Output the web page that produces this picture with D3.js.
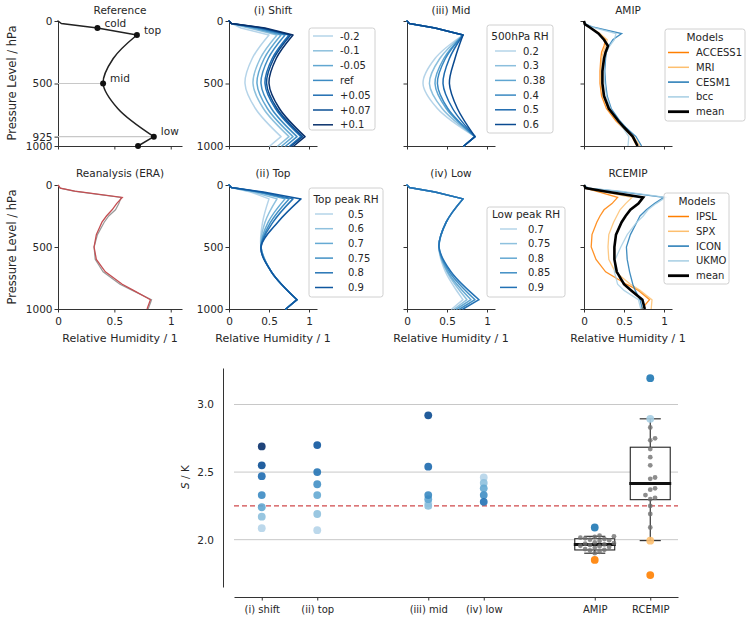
<!DOCTYPE html>
<html>
<head>
<meta charset="utf-8">
<script src="https://cdn.jsdelivr.net/npm/d3@7"></script>
<style>
  body { margin: 0; background: #fff; }
  svg text { font-family: "DejaVu Sans", "Liberation Sans", sans-serif; fill: #262626; }
</style>
</head>
<body>
<svg id="fig" width="749" height="619"></svg>
<script>
// ---------- data ----------
// idealised profiles: relative humidity at these pressure levels (hPa)
const idealLevels = [0, 20, 56, 112, 300, 500, 700, 925, 1000];
const refProfile = [0, 0.03, 0.35, 0.70, 0.49, 0.40, 0.53, 0.85, 0.71];
const refMarkIdx = [2, 3, 5, 7, 8];
const refMarkNames = ["cold", "top", "mid", "low", ""];

const shiftLabels = ["-0.2", "-0.1", "-0.05", "ref", "+0.05", "+0.07", "+0.1"];
const shiftProfiles = [
  [0, 0.03, 0.15, 0.50, 0.29, 0.20, 0.33, 0.65, 0.51],
  [0, 0.03, 0.25, 0.60, 0.39, 0.30, 0.43, 0.75, 0.61],
  [0, 0.03, 0.30, 0.65, 0.44, 0.35, 0.48, 0.80, 0.66],
  [0, 0.03, 0.35, 0.70, 0.49, 0.40, 0.53, 0.85, 0.71],
  [0, 0.03, 0.40, 0.75, 0.54, 0.45, 0.58, 0.90, 0.76],
  [0, 0.03, 0.42, 0.77, 0.56, 0.47, 0.60, 0.92, 0.78],
  [0, 0.03, 0.45, 0.80, 0.59, 0.50, 0.63, 0.95, 0.81]
];

const midLabels = ["0.2", "0.3", "0.38", "0.4", "0.5", "0.6"];
const midProfiles = [
  [0, 0.03, 0.35, 0.70, 0.35, 0.20, 0.38, 0.85, 0.71],
  [0, 0.03, 0.35, 0.70, 0.41, 0.28, 0.44, 0.85, 0.71],
  [0, 0.03, 0.35, 0.70, 0.46, 0.35, 0.49, 0.85, 0.71],
  [0, 0.03, 0.35, 0.70, 0.48, 0.38, 0.51, 0.85, 0.71],
  [0, 0.03, 0.35, 0.70, 0.53, 0.45, 0.57, 0.85, 0.71],
  [0, 0.03, 0.35, 0.70, 0.60, 0.53, 0.63, 0.85, 0.71]
];

const topLabels = ["0.5", "0.6", "0.7", "0.75", "0.8", "0.9"];
const topProfiles = [
  [0, 0.03, 0.27, 0.50, 0.42, 0.40, 0.53, 0.85, 0.71],
  [0, 0.03, 0.30, 0.60, 0.45, 0.40, 0.53, 0.85, 0.71],
  [0, 0.03, 0.35, 0.70, 0.49, 0.40, 0.53, 0.85, 0.71],
  [0, 0.03, 0.37, 0.75, 0.52, 0.40, 0.53, 0.85, 0.71],
  [0, 0.03, 0.39, 0.80, 0.55, 0.40, 0.53, 0.85, 0.71],
  [0, 0.03, 0.43, 0.90, 0.61, 0.40, 0.53, 0.85, 0.71]
];

const lowLabels = ["0.7", "0.75", "0.8", "0.85", "0.9"];
const lowProfiles = [
  [0, 0.03, 0.35, 0.70, 0.49, 0.40, 0.48, 0.70, 0.56],
  [0, 0.03, 0.35, 0.70, 0.49, 0.40, 0.50, 0.75, 0.59],
  [0, 0.03, 0.35, 0.70, 0.49, 0.40, 0.51, 0.80, 0.62],
  [0, 0.03, 0.35, 0.70, 0.49, 0.40, 0.53, 0.85, 0.66],
  [0, 0.03, 0.35, 0.70, 0.49, 0.40, 0.55, 0.90, 0.70]
];

// model / reanalysis profiles on standard levels
const modelLevels = [0, 25, 50, 100, 150, 200, 250, 300, 400, 500, 600, 700, 800, 850, 925, 1000];
const eraGray = [0, 0.02, 0.14, 0.56, 0.54, 0.51, 0.45, 0.41, 0.35, 0.32, 0.33, 0.40, 0.55, 0.66, 0.83, 0.80];
const eraRed  = [0, 0.02, 0.15, 0.57, 0.52, 0.48, 0.43, 0.39, 0.34, 0.32, 0.34, 0.42, 0.57, 0.67, 0.82, 0.79];

const modelColors = ["#ff7f00", "#fdbf6f", "#1f78b4", "#a6cee3", "#000000"];
const amipModels = ["ACCESS1", "MRI", "CESM1", "bcc", "mean"];
const amipProfiles = [
  [0, 0.01, 0.07, 0.18, 0.27, 0.25, 0.22, 0.21, 0.20, 0.20, 0.22, 0.28, 0.40, 0.48, 0.60, 0.66],
  [0, 0.01, 0.08, 0.20, 0.29, 0.27, 0.24, 0.22, 0.21, 0.21, 0.24, 0.30, 0.42, 0.50, 0.62, 0.70],
  [0, 0.02, 0.12, 0.47, 0.36, 0.31, 0.28, 0.27, 0.26, 0.27, 0.29, 0.34, 0.45, 0.52, 0.65, 0.72],
  [0, 0.02, 0.10, 0.40, 0.38, 0.32, 0.28, 0.26, 0.25, 0.26, 0.28, 0.33, 0.42, 0.48, 0.56, 0.55],
  [0, 0.01, 0.07, 0.18, 0.25, 0.30, 0.27, 0.25, 0.23, 0.23, 0.25, 0.31, 0.43, 0.50, 0.61, 0.67]
];
const rcemipModels = ["IPSL", "SPX", "ICON", "UKMO", "mean"];
const rcemipProfiles = [
  [0, 0.02, 0.15, 0.42, 0.35, 0.25, 0.20, 0.16, 0.10, 0.09, 0.15, 0.27, 0.53, 0.68, 0.82, 0.72],
  [0, 0.02, 0.20, 0.60, 0.52, 0.45, 0.41, 0.37, 0.31, 0.30, 0.31, 0.39, 0.58, 0.70, 0.85, 0.84],
  [0, 0.05, 0.40, 1.00, 0.88, 0.78, 0.70, 0.66, 0.58, 0.53, 0.54, 0.57, 0.61, 0.64, 0.70, 0.73],
  [0, 0.05, 0.45, 1.02, 0.90, 0.80, 0.74, 0.66, 0.54, 0.46, 0.39, 0.38, 0.42, 0.50, 0.68, 0.71],
  [0, 0.02, 0.25, 0.74, 0.68, 0.58, 0.52, 0.47, 0.40, 0.38, 0.38, 0.41, 0.50, 0.59, 0.73, 0.76]
];

// lower panel: S / K
const groups = ["(i) shift", "(ii) top", "(iii) mid", "(iv) low", "AMIP", "RCEMIP"];
const groupPos = [0, 1, 3, 4, 6, 7];
const shiftS = [2.085, 2.17, 2.24, 2.33, 2.47, 2.55, 2.69];
const topS = [2.07, 2.19, 2.33, 2.41, 2.50, 2.70];
const midS = [2.27, 2.25, 2.30, 2.33, 2.54, 2.92];
const lowS = [2.46, 2.42, 2.38, 2.33, 2.28];
const refS = 2.25;
const amipS = [2.03, 2.025, 2.02, 2.015, 2.01, 2.005, 2.0, 1.995, 1.99, 1.98, 1.975, 1.97,
               1.965, 1.96, 1.955, 1.95, 1.945, 1.94, 1.93, 1.925, 1.92, 1.91, 1.90];
const rcemipS = [2.83, 2.75, 2.735, 2.67, 2.61, 2.55, 2.46, 2.45, 2.38, 2.37, 2.33, 2.31,
                 2.30, 2.25, 2.19, 2.09];
// whisker low, q1, median, q3, whisker high
const amipBox = [1.90, 1.924, 1.965, 2.007, 2.025];
const rcemipBox = [1.993, 2.296, 2.415, 2.684, 2.894];
const amipNamedS = [2.09, 1.85];          // CESM1, ACCESS1
const amipNamedCol = ["#1f78b4", "#ff7f00"];
const rcemipNamedS = [3.195, 2.894, 1.993, 1.738];   // UKMO, ICON, SPX, IPSL
const rcemipNamedCol = ["#1f78b4", "#a6cee3", "#fdbf6f", "#ff7f00"];

// ---------- layout ----------
const svg = d3.select("#fig");
const ink = "#262626";
const colX = [58, 229, 407, 584];
const colW = [124, 88, 88, 88];
const rowTop = [21, 185];
const rowH = [125, 124];

function blues(n, t0, t1) {
  return d3.range(n).map(i => d3.interpolateBlues(t0 + (t1 - t0) * i / (n - 1)));
}
const shiftCols = blues(shiftLabels.length, 0.3, 1.0);
const midCols = blues(midLabels.length, 0.3, 0.9);
const topCols = blues(topLabels.length, 0.3, 0.85);
const lowCols = blues(lowLabels.length, 0.3, 0.75);

function scales(col, row) {
  return {
    x: d3.scaleLinear().domain([0, 1.1]).range([colX[col], colX[col] + colW[col]]),
    y: d3.scaleLinear().domain([0, 1000]).range([rowTop[row], rowTop[row] + rowH[row]])
  };
}

function styleAxis(g, fs) {
  g.attr("font-family", null).attr("font-size", null);
  g.selectAll("path.domain").attr("stroke", "#333").attr("stroke-width", 1);
  g.selectAll(".tick line").attr("stroke", "#333");
  g.selectAll("text").attr("fill", ink).style("font-size", (fs || 10.5) + "px");
}

function axes(s, yTicks, yLab, xLab) {
  const ya = d3.axisLeft(s.y).tickValues(yTicks).tickSize(3.5).tickSizeOuter(0).tickPadding(2)
    .tickFormat(yLab ? d3.format("d") : "");
  svg.append("g").attr("transform", `translate(${s.x(0)},0)`).call(ya).call(styleAxis);
  const xa = d3.axisBottom(s.x).tickValues([0, 0.5, 1]).tickSize(3.5).tickSizeOuter(0).tickPadding(5)
    .tickFormat(xLab ? (d => d === 0.5 ? "0.5" : String(d)) : "");
  svg.append("g").attr("transform", `translate(0,${s.y(1000)})`).call(xa).call(styleAxis);
}

function title(s, txt, row) {
  svg.append("text").attr("x", (s.x.range()[0] + s.x.range()[1]) / 2)
    .attr("y", row === 0 ? 14 : 177).attr("text-anchor", "middle")
    .style("font-size", "10.5px").text(txt);
}

function idealPath(s, rh) {
  const pts = idealLevels.map((p, i) => [s.x(rh[i]), s.y(p)]);
  const lin = d3.line();
  const smooth = d3.line().curve(d3.curveCatmullRom.alpha(0.5));
  return lin(pts.slice(0, 4)) + smooth(pts.slice(3, 8)) + lin(pts.slice(7));
}

function modelPath(s, rh) {
  return d3.line()(modelLevels.map((p, i) => [s.x(rh[i]), s.y(p)]));
}

function legend(o) {
  const g = svg.append("g");
  g.append("rect").attr("x", o.x0).attr("y", o.y0).attr("width", o.x1 - o.x0).attr("height", o.y1 - o.y0)
    .attr("rx", 2.5).attr("fill", "#fff").attr("fill-opacity", 0.8).attr("stroke", "#d0d0d0");
  if (o.title) {
    g.append("text").attr("x", o.titleX).attr("y", o.rows[0] - o.step).attr("dy", "0.35em")
      .attr("text-anchor", "middle").style("font-size", "10.5px").text(o.title);
  }
  o.labels.forEach((lab, i) => {
    const y = o.rows[0] + i * o.step;
    g.append("line").attr("x1", o.lx0).attr("x2", o.lx1).attr("y1", y).attr("y2", y)
      .attr("stroke", o.colors[i]).attr("stroke-width", o.widths ? o.widths[i] : 1.5);
    g.append("text").attr("x", o.tx).attr("y", y).attr("dy", "0.35em")
      .style("font-size", "10px").text(lab);
  });
}

// ---------- top row ----------
// Reference
{
  const s = scales(0, 0);
  axes(s, [0, 500, 925, 1000], true, false);
  [5, 7].forEach(i => {
    svg.append("line").attr("x1", s.x(0)).attr("x2", s.x(refProfile[i]))
      .attr("y1", s.y(idealLevels[i])).attr("y2", s.y(idealLevels[i]))
      .attr("stroke", "#c8c8c8").attr("stroke-width", 1.2);
  });
  svg.append("path").attr("d", idealPath(s, refProfile)).attr("fill", "none")
    .attr("stroke", "#222").attr("stroke-width", 1.5).attr("stroke-linecap", "round");
  refMarkIdx.forEach((idx, k) => {
    const cx = s.x(refProfile[idx]), cy = s.y(idealLevels[idx]);
    svg.append("circle").attr("cx", cx).attr("cy", cy).attr("r", 3).attr("fill", "#111");
    if (refMarkNames[k]) {
      svg.append("text").attr("x", cx + 7).attr("y", cy - 1.5)
        .style("font-size", "10.5px").text(refMarkNames[k]);
    }
  });
  title(s, "Reference", 0);
}

function idealPanel(col, row, ttl, profiles, cols, yLab, xLab) {
  const s = scales(col, row);
  axes(s, [0, 500, 1000], yLab, xLab);
  profiles.forEach((rh, i) => {
    svg.append("path").attr("d", idealPath(s, rh)).attr("fill", "none")
      .attr("stroke", cols[i]).attr("stroke-width", 1.5).attr("stroke-linecap", "round");
  });
  title(s, ttl, row);
}

idealPanel(1, 0, "(i) Shift", shiftProfiles, shiftCols, true, false);
idealPanel(2, 0, "(iii) Mid", midProfiles, midCols, false, false);

function modelPanel(col, row, ttl, profiles, xLab) {
  const s = scales(col, row);
  axes(s, [0, 500, 1000], false, xLab);
  profiles.forEach((rh, i) => {
    const isMean = i === profiles.length - 1;
    svg.append("path").attr("d", modelPath(s, rh)).attr("fill", "none")
      .attr("stroke", modelColors[i]).attr("stroke-width", isMean ? 2.6 : 1.3)
      .attr("stroke-opacity", isMean ? 1 : 0.85);
  });
  title(s, ttl, row);
}
modelPanel(3, 0, "AMIP", amipProfiles, false);

// ---------- bottom row ----------
{
  const s = scales(0, 1);
  axes(s, [0, 500, 1000], true, true);
  svg.append("path").attr("d", modelPath(s, eraGray)).attr("fill", "none")
    .attr("stroke", "#999").attr("stroke-width", 1.2);
  svg.append("path").attr("d", modelPath(s, eraRed)).attr("fill", "none")
    .attr("stroke", "#c44e52").attr("stroke-width", 1.3);
  title(s, "Reanalysis (ERA)", 1);
}
idealPanel(1, 1, "(ii) Top", topProfiles, topCols, true, true);
idealPanel(2, 1, "(iv) Low", lowProfiles, lowCols, false, true);
modelPanel(3, 1, "RCEMIP", rcemipProfiles, true);

// axis labels
[83, 247].forEach(cy => {
  svg.append("text").attr("transform", `translate(16,${cy}) rotate(-90)`)
    .attr("text-anchor", "middle").style("font-size", "11.5px").text("Pressure Level / hPa");
});
[0, 1, 2, 3].forEach(c => {
  svg.append("text").attr("x", colX[c] + colW[c] / 2)
    .attr("y", 342).attr("text-anchor", "middle").style("font-size", "11px")
    .text("Relative Humidity / 1");
});

// legends
const stdW = labels => labels.map((d, i) => i === labels.length - 1 ? 2.8 : 1.5);
legend({ x0: 309, x1: 375, y0: 28, y1: 130, rows: [36], step: 14.8, lx0: 313, lx1: 333, tx: 340,
  labels: shiftLabels, colors: shiftCols });
legend({ x0: 487, x1: 553, y0: 25, y1: 133, rows: [51], step: 14.7, lx0: 495, lx1: 516, tx: 523,
  title: "500hPa RH", titleX: 520, labels: midLabels, colors: midCols });
legend({ x0: 665, x1: 745, y0: 29, y1: 121, rows: [52.5], step: 14.8, lx0: 668, lx1: 689, tx: 696,
  title: "Models", titleX: 705, labels: amipModels, colors: modelColors, widths: stdW(amipModels) });
legend({ x0: 309, x1: 383, y0: 188, y1: 297, rows: [214], step: 14.7, lx0: 315, lx1: 333, tx: 348,
  title: "Top peak RH", titleX: 346, labels: topLabels, colors: topCols });
legend({ x0: 487, x1: 565, y0: 207, y1: 297, rows: [229], step: 14.6, lx0: 500, lx1: 517, tx: 528,
  title: "Low peak RH", titleX: 526, labels: lowLabels, colors: lowCols });
legend({ x0: 664, x1: 729, y0: 193, y1: 284, rows: [216.5], step: 14.8, lx0: 668, lx1: 689, tx: 696,
  title: "Models", titleX: 697, labels: rcemipModels, colors: modelColors, widths: stdW(rcemipModels) });

// ---------- lower S panel ----------
const xS = d3.scaleLinear().domain([-0.5, 7.5]).range([234, 678]);
const yS = d3.scaleLinear().domain([1.65, 3.27]).range([587, 368]);

[2.0, 2.5, 3.0].forEach(v => {
  svg.append("line").attr("x1", xS(-0.5)).attr("x2", xS(7.5)).attr("y1", yS(v)).attr("y2", yS(v))
    .attr("stroke", "#c8c8c8").attr("stroke-width", 1);
});
svg.append("line").attr("x1", xS(-0.5)).attr("x2", xS(7.5)).attr("y1", yS(refS)).attr("y2", yS(refS))
  .attr("stroke", "#d0484b").attr("stroke-width", 1.2).attr("stroke-dasharray", "5,3");

svg.append("g").attr("transform", "translate(223,0)")
  .call(d3.axisLeft(yS).tickValues([2.0, 2.5, 3.0]).tickFormat(d3.format(".1f"))
    .tickSize(0).tickSizeOuter(0).tickPadding(9)).call(styleAxis, 10.5);
svg.append("g").attr("transform", "translate(0,597)")
  .call(d3.axisBottom(xS).tickValues(groupPos).tickFormat((d, i) => groups[i])
    .tickSize(3.5).tickSizeOuter(0).tickPadding(5)).call(styleAxis, 10);

const yl = svg.append("text").attr("transform", "translate(189,477) rotate(-90)")
  .attr("text-anchor", "middle").style("font-size", "10.5px");
yl.append("tspan").style("font-style", "italic").text("S");
yl.append("tspan").text(" / K");

// idealised sensitivity points
[[shiftS, shiftCols], [topS, topCols], [midS, midCols], [lowS, lowCols]].forEach(([vals, cols], g) => {
  vals.forEach((v, i) => {
    svg.append("circle").attr("cx", xS(groupPos[g])).attr("cy", yS(v)).attr("r", 3.9)
      .attr("fill", cols[i]).attr("fill-opacity", 0.9);
  });
});

function swarm(values, cx, r) {
  const placed = [];
  values.slice().sort((a, b) => a - b).forEach(v => {
    const cy = yS(v);
    let off = 0;
    for (let k = 0; k < 60; k++) {
      const cand = k === 0 ? 0 : (k % 2 ? 1 : -1) * Math.ceil(k / 2) * r;
      if (placed.every(p => Math.hypot(p.x - (cx + cand), p.y - cy) >= 2 * r)) { off = cand; break; }
    }
    placed.push({ x: cx + off, y: cy });
  });
  return placed;
}

function boxPlot(pos, b, pts, namedS, namedCol) {
  const cx = xS(pos), w = 0.72, cw = 0.38;
  svg.append("rect").attr("x", xS(pos - w / 2)).attr("width", xS(pos + w / 2) - xS(pos - w / 2))
    .attr("y", yS(b[3])).attr("height", yS(b[1]) - yS(b[3]))
    .attr("fill", "#fff").attr("stroke", "#222").attr("stroke-width", 1.1);
  [[b[3], b[4]], [b[1], b[0]]].forEach(([a, c]) => {
    svg.append("line").attr("x1", cx).attr("x2", cx).attr("y1", yS(a)).attr("y2", yS(c))
      .attr("stroke", "#222").attr("stroke-width", 1.1);
    svg.append("line").attr("x1", xS(pos - cw / 2)).attr("x2", xS(pos + cw / 2))
      .attr("y1", yS(c)).attr("y2", yS(c)).attr("stroke", "#222").attr("stroke-width", 1.1);
  });
  svg.append("line").attr("x1", xS(pos - w / 2) - 1).attr("x2", xS(pos + w / 2) + 1)
    .attr("y1", yS(b[2])).attr("y2", yS(b[2])).attr("stroke", "#111").attr("stroke-width", 3);
  swarm(pts, cx, 2.4).forEach(p => {
    svg.append("circle").attr("cx", p.x).attr("cy", p.y).attr("r", 2.4)
      .attr("fill", "#707070").attr("fill-opacity", 0.8);
  });
  namedS.forEach((v, i) => {
    svg.append("circle").attr("cx", cx).attr("cy", yS(v)).attr("r", 3.9)
      .attr("fill", namedCol[i]).attr("fill-opacity", 0.9);
  });
}
boxPlot(groupPos[4], amipBox, amipS, amipNamedS, amipNamedCol);
boxPlot(groupPos[5], rcemipBox, rcemipS, rcemipNamedS, rcemipNamedCol);
</script>
</body>
</html>
